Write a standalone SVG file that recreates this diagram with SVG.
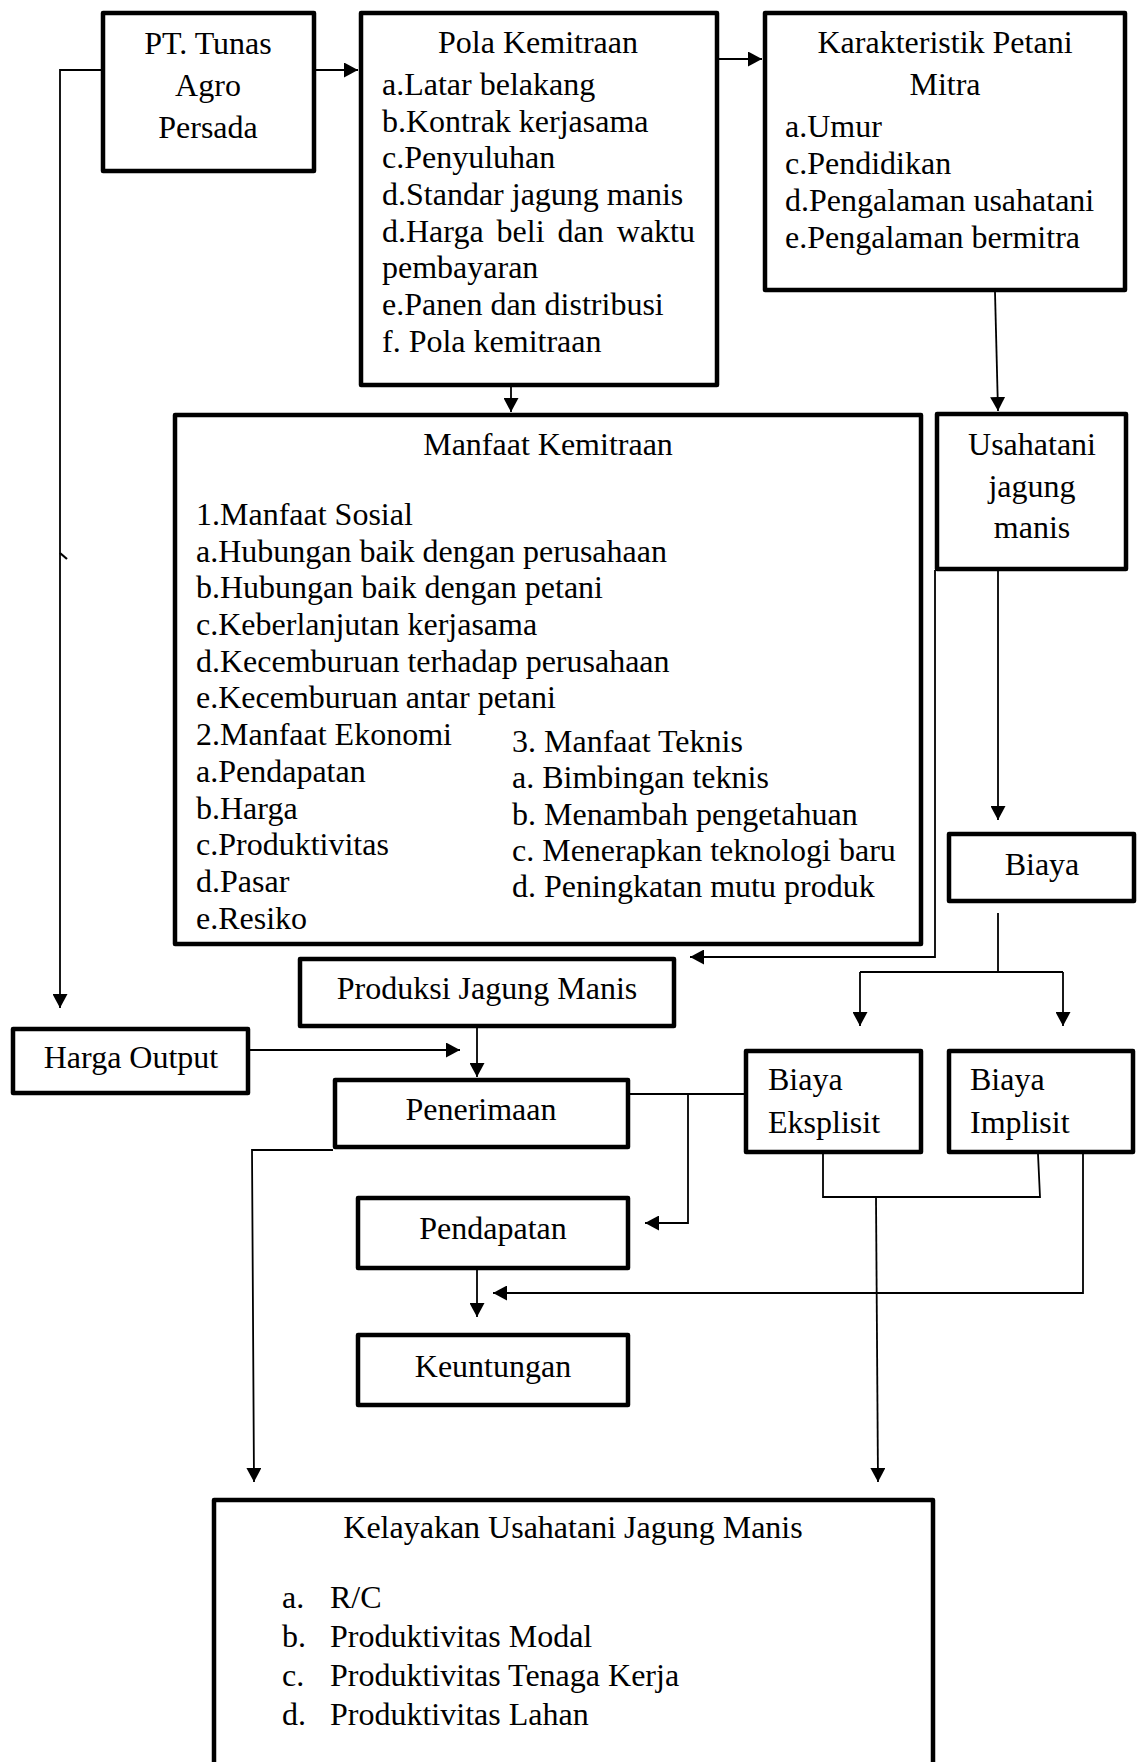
<svg xmlns="http://www.w3.org/2000/svg" width="1138" height="1762" viewBox="0 0 1138 1762">
<style>
.box{fill:#fff;stroke:#000;stroke-width:4.5;stroke-linejoin:round}
.t{font-family:"Liberation Serif","Times New Roman",serif;font-size:32px;fill:#000}
.c{text-anchor:middle}
.ln{fill:none;stroke:#000;stroke-width:1.8}
.ar{marker-end:url(#arr)}
</style>
<defs>
<marker id="arr" markerUnits="userSpaceOnUse" markerWidth="15" markerHeight="15" refX="14" refY="7.5" orient="auto">
<path d="M0,0 L14,7.5 L0,15 z" fill="#000"/>
</marker>
</defs>
<rect width="1138" height="1762" fill="#fff"/>
<g id="connectors">
<path class="ln ar" d="M316,70 L358,70"/>
<path class="ln ar" d="M719,59 L762,59"/>
<path class="ln ar" d="M511,387 L511,412"/>
<path class="ln ar" d="M995,292 L998,411"/>
<path class="ln ar" d="M101,70 L60,70 L60,1008"/>
<path class="ln" d="M60,553 L67,559" style="stroke-width:2.2"/>
<path class="ln ar" d="M998,570 L998,820"/>
<path class="ln ar" d="M935,570 L935,957 L690,957"/>
<path class="ln" d="M998,913 L998,972 M860,972 L1063,972"/>
<path class="ln ar" d="M860,972 L860,1026"/>
<path class="ln ar" d="M1063,972 L1063,1026"/>
<path class="ln ar" d="M477,1028 L477,1077"/>
<path class="ln ar" d="M250,1050 L460,1050"/>
<path class="ln" d="M630,1094 L745,1094"/>
<path class="ln ar" d="M688,1094 L688,1223 L645,1223"/>
<path class="ln ar" d="M333,1150 L252,1150 L254,1482"/>
<path class="ln ar" d="M477,1270 L477,1317"/>
<path class="ln ar" d="M1083,1154 L1083,1293 L493,1293"/>
<path class="ln" d="M823,1154 L823,1197 L1040,1197 L1038,1154"/>
<path class="ln ar" d="M876,1197 L878,1482"/>
</g>
<g id="pt-tunas">
<rect class="box" x="103" y="13" width="211" height="158"/>
<text class="t c" x="208" y="54">PT. Tunas</text>
<text class="t c" x="208" y="96">Agro</text>
<text class="t c" x="208" y="138">Persada</text>
</g>
<g id="pola-kemitraan">
<rect class="box" x="361" y="13" width="356" height="372"/>
<text class="t c" x="538" y="53">Pola Kemitraan</text>
<text class="t" x="382" y="95">a.Latar belakang</text>
<text class="t" x="382" y="132">b.Kontrak kerjasama</text>
<text class="t" x="382" y="168">c.Penyuluhan</text>
<text class="t" x="382" y="205">d.Standar jagung manis</text>
<text class="t" x="382" y="242" word-spacing="5">d.Harga beli dan waktu</text>
<text class="t" x="382" y="278">pembayaran</text>
<text class="t" x="382" y="315">e.Panen dan distribusi</text>
<text class="t" x="382" y="352">f. Pola kemitraan</text>
</g>
<g id="karakteristik">
<rect class="box" x="765" y="13" width="360" height="277"/>
<text class="t c" x="945" y="53">Karakteristik Petani</text>
<text class="t c" x="945" y="95">Mitra</text>
<text class="t" x="785" y="137">a.Umur</text>
<text class="t" x="785" y="174">c.Pendidikan</text>
<text class="t" x="785" y="211">d.Pengalaman usahatani</text>
<text class="t" x="785" y="248">e.Pengalaman bermitra</text>
</g>
<g id="manfaat-kemitraan">
<rect class="box" x="175" y="415" width="746" height="529"/>
<text class="t c" x="548" y="455">Manfaat Kemitraan</text>
<text class="t" x="196" y="525">1.Manfaat Sosial</text>
<text class="t" x="196" y="562">a.Hubungan baik dengan perusahaan</text>
<text class="t" x="196" y="598">b.Hubungan baik dengan petani</text>
<text class="t" x="196" y="635">c.Keberlanjutan kerjasama</text>
<text class="t" x="196" y="672">d.Kecemburuan terhadap perusahaan</text>
<text class="t" x="196" y="708">e.Kecemburuan antar petani</text>
<text class="t" x="196" y="745">2.Manfaat Ekonomi</text>
<text class="t" x="196" y="782">a.Pendapatan</text>
<text class="t" x="196" y="819">b.Harga</text>
<text class="t" x="196" y="855">c.Produktivitas</text>
<text class="t" x="196" y="892">d.Pasar</text>
<text class="t" x="196" y="929">e.Resiko</text>
<text class="t" x="512" y="752">3. Manfaat Teknis</text>
<text class="t" x="512" y="788">a. Bimbingan teknis</text>
<text class="t" x="512" y="825">b. Menambah pengetahuan</text>
<text class="t" x="512" y="861">c. Menerapkan teknologi baru</text>
<text class="t" x="512" y="897">d. Peningkatan mutu produk</text>
</g>
<g id="usahatani">
<rect class="box" x="937" y="414" width="189" height="155"/>
<text class="t c" x="1032" y="455">Usahatani</text>
<text class="t c" x="1032" y="497">jagung</text>
<text class="t c" x="1032" y="538">manis</text>
</g>
<g id="biaya">
<rect class="box" x="949" y="834" width="185" height="67"/>
<text class="t c" x="1042" y="875">Biaya</text>
</g>
<g id="produksi">
<rect class="box" x="300" y="959" width="374" height="67"/>
<text class="t c" x="487" y="999">Produksi Jagung Manis</text>
</g>
<g id="harga-output">
<rect class="box" x="13" y="1029" width="235" height="64"/>
<text class="t c" x="131" y="1068">Harga Output</text>
</g>
<g id="penerimaan">
<rect class="box" x="335" y="1080" width="293" height="67"/>
<text class="t c" x="481" y="1120">Penerimaan</text>
</g>
<g id="biaya-eksplisit">
<rect class="box" x="746" y="1051" width="175" height="101"/>
<text class="t" x="768" y="1090">Biaya</text>
<text class="t" x="768" y="1133">Eksplisit</text>
</g>
<g id="biaya-implisit">
<rect class="box" x="949" y="1051" width="184" height="101"/>
<text class="t" x="970" y="1090">Biaya</text>
<text class="t" x="970" y="1133">Implisit</text>
</g>
<g id="pendapatan">
<rect class="box" x="358" y="1198" width="270" height="70"/>
<text class="t c" x="493" y="1239">Pendapatan</text>
</g>
<g id="keuntungan">
<rect class="box" x="358" y="1335" width="270" height="70"/>
<text class="t c" x="493" y="1377">Keuntungan</text>
</g>
<g id="kelayakan">
<rect class="box" x="214" y="1500" width="719" height="300"/>
<text class="t c" x="573" y="1538">Kelayakan Usahatani Jagung Manis</text>
<text class="t" x="282" y="1608">a.</text>
<text class="t" x="330" y="1608">R/C</text>
<text class="t" x="282" y="1647">b.</text>
<text class="t" x="330" y="1647">Produktivitas Modal</text>
<text class="t" x="282" y="1686">c.</text>
<text class="t" x="330" y="1686">Produktivitas Tenaga Kerja</text>
<text class="t" x="282" y="1725">d.</text>
<text class="t" x="330" y="1725">Produktivitas Lahan</text>
</g>
</svg>
